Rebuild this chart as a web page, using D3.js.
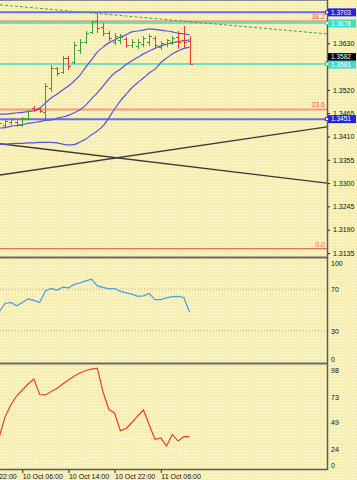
<!DOCTYPE html>
<html>
<head>
<meta charset="utf-8">
<script src="https://cdn.jsdelivr.net/npm/d3@7"></script>
<style>
  body { margin: 0; background: #f8f1b8; }
  svg { display: block; font-family: "Liberation Sans", Arial, sans-serif; }
</style>
</head>
<body>
<svg id="chart" width="357" height="480"></svg>
<script>
// hourly bars, 10 Oct 02:00 .. 11 Oct 11:00
var bars = ["10 Oct 02:00", "10 Oct 03:00", "10 Oct 04:00", "10 Oct 05:00", "10 Oct 06:00", "10 Oct 07:00",
  "10 Oct 08:00", "10 Oct 09:00", "10 Oct 10:00", "10 Oct 11:00", "10 Oct 12:00", "10 Oct 13:00",
  "10 Oct 14:00", "10 Oct 15:00", "10 Oct 16:00", "10 Oct 17:00", "10 Oct 18:00", "10 Oct 19:00",
  "10 Oct 20:00", "10 Oct 21:00", "10 Oct 22:00", "10 Oct 23:00", "11 Oct 00:00", "11 Oct 01:00",
  "11 Oct 02:00", "11 Oct 03:00", "11 Oct 04:00", "11 Oct 05:00", "11 Oct 06:00", "11 Oct 07:00",
  "11 Oct 08:00", "11 Oct 09:00", "11 Oct 10:00", "11 Oct 11:00"];

var open = [1.3430, 1.3437, 1.3444, 1.3444, 1.3437, 1.3454, 1.3477, 1.3475, 1.3468, 1.3525, 1.3572, 1.3562,
  1.3595, 1.3586, 1.3614, 1.3633, 1.3657, 1.3683, 1.3668, 1.3654, 1.3633, 1.3638, 1.3640, 1.3626,
  1.3624, 1.3628, 1.3633, 1.3643, 1.3621, 1.3628, 1.3633, 1.3645, 1.3638, 1.3635];
var high = [1.3447, 1.3449, 1.3454, 1.3447, 1.3456, 1.3473, 1.3482, 1.3480, 1.3536, 1.3579, 1.3574, 1.3600,
  1.3600, 1.3633, 1.3640, 1.3659, 1.3685, 1.3699, 1.3678, 1.3659, 1.3654, 1.3652, 1.3645, 1.3640,
  1.3640, 1.3647, 1.3652, 1.3647, 1.3635, 1.3640, 1.3647, 1.3659, 1.3671, 1.3647];
var low = [1.3425, 1.3430, 1.3437, 1.3433, 1.3433, 1.3449, 1.3468, 1.3466, 1.3449, 1.3515, 1.3553, 1.3558,
  1.3567, 1.3581, 1.3605, 1.3628, 1.3652, 1.3654, 1.3647, 1.3635, 1.3626, 1.3628, 1.3619, 1.3619,
  1.3617, 1.3621, 1.3624, 1.3617, 1.3614, 1.3621, 1.3626, 1.3617, 1.3619, 1.3581];
var close = [1.3442, 1.3447, 1.3451, 1.3437, 1.3454, 1.3470, 1.3473, 1.3470, 1.3529, 1.3572, 1.3560, 1.3595,
  1.3576, 1.3626, 1.3633, 1.3654, 1.3680, 1.3666, 1.3654, 1.3643, 1.3647, 1.3645, 1.3626, 1.3633,
  1.3633, 1.3643, 1.3647, 1.3626, 1.3631, 1.3638, 1.3643, 1.3633, 1.3633, 1.3582];

// bollinger bands
var bbUpper = [1.3463, 1.3463, 1.3464, 1.3466, 1.3467, 1.3469, 1.3471, 1.3477, 1.3489, 1.3501, 1.3510, 1.3520,
  1.3529, 1.3541, 1.3555, 1.3574, 1.3591, 1.3609, 1.3621, 1.3631, 1.3638, 1.3645, 1.3650, 1.3657,
  1.3659, 1.3661, 1.3664, 1.3663, 1.3661, 1.3659, 1.3657, 1.3654, 1.3652, 1.3650];
var bbMiddle = [1.3430, 1.3431, 1.3434, 1.3436, 1.3438, 1.3441, 1.3443, 1.3445, 1.3448, 1.3449, 1.3453, 1.3456,
  1.3460, 1.3466, 1.3473, 1.3484, 1.3499, 1.3513, 1.3529, 1.3546, 1.3560, 1.3569, 1.3580, 1.3589,
  1.3597, 1.3605, 1.3612, 1.3618, 1.3624, 1.3628, 1.3631, 1.3634, 1.3636, 1.3638];
var bbLower = [1.3392, 1.3392, 1.3393, 1.3394, 1.3394, 1.3395, 1.3395, 1.3396, 1.3396, 1.3396, 1.3395, 1.3392,
  1.3390, 1.3391, 1.3397, 1.3404, 1.3414, 1.3423, 1.3435, 1.3454, 1.3475, 1.3494, 1.3510, 1.3525,
  1.3537, 1.3548, 1.3560, 1.3569, 1.3584, 1.3595, 1.3605, 1.3612, 1.3618, 1.3621];

// oscillators
var rsi = [48.2, 56.3, 57.3, 54.0, 57.3, 60.7, 59.2, 57.1, 68.4, 70.8, 69.0, 71.9, 71.3, 74.6, 76.1, 78.0, 79.6,
  73.2, 71.7, 70.3, 70.6, 67.9, 66.4, 65.2, 63.1, 63.6, 66.0, 60.0, 60.0, 61.6, 62.8, 63.1, 62.1, 47.9];
var stoch = [35.5, 54.1, 65.3, 73.7, 79.3, 84.9, 89.6, 75.1, 74.7, 77.9, 80.7, 84.9, 88.7, 92.4, 95.2, 97.5, 98.9,
  99.8, 77.5, 61.1, 57.9, 41.4, 43.4, 49.0, 55.1, 60.7, 46.7, 33.3, 34.5, 27.1, 37.8, 31.7, 35.8, 35.8];
var stochSignal = [4.7, 6.5, 8.4, 9.3, 8.4, 9.3, 11.2, 13.1, 14.0, 12.1, 10.3, 9.3, 11.2, 13.1, 14.0, 15.9, 16.8,
  17.7, 23.3, 29.0, 31.7, 33.6, 33.6, 33.6, 31.7, 28.0, 25.2, 22.4, 20.5, 22.4, 24.3, 21.5, 15.0, 27.1];

// levels and objects
var blueLevels = [1.3703, 1.3451];
var cyanLevels = [1.3678, 1.3581];
var bidPrice = 1.3582;
var fibNames = ["0.0", "23.6", "38.2"];
var fibPrices = [1.3145, 1.3474, 1.3682];
var trendGreen = [["10 Oct 02:00", 1.3721], ["11 Oct 11:00", 1.3681]];
var trendDown = [["10 Oct 02:00", 1.3393], ["11 Oct 11:00", 1.3339]];
var trendUp = [["10 Oct 02:00", 1.3319], ["11 Oct 11:00", 1.3385]];

// axes (1.3685 and 1.3575 sit under the price boxes)
var priceTicks = [1.3630, 1.3520, 1.3465, 1.3410, 1.3355, 1.3300, 1.3245, 1.3190, 1.3135];
var rsiTicks = [100, 70, 30, 0];
var rsiLevels = [70, 30];
var stochTicks = [98, 73, 49, 24, 0];
var timeTicks = ["09 Oct 22:00", "10 Oct 06:00", "10 Oct 14:00", "10 Oct 22:00", "11 Oct 06:00"];

var params = {
  "width": 357,
  "height": 480,
  "axisX": 327,
  "main": { "top": 1, "bottom": 257 },
  "rsi": { "top": 258, "bottom": 363 },
  "sto": { "top": 364, "bottom": 469 }
};

var parseTime = d3.timeParse("%d %b %H:%M");
var barTimes = bars.map(parseTime);

var scale = {
  "x": d3.scaleTime()
    .domain([barTimes[1], barTimes[barTimes.length - 1]])
    .range([5, 189.6]),
  "y": d3.scaleLinear().domain([1.3630, 1.3135]).range([43.3, 253]),
  "rsi": d3.scaleLinear().domain([0, 100]).range([362, 258]),
  "sto": d3.scaleLinear().domain([5.6, 103.6]).range([469, 364])
};

var svg = d3.select("#chart");
var defs = svg.append("defs");

// dithered yellow background
var pat = defs.append("pattern")
  .attr("id", "dots")
  .attr("width", 3)
  .attr("height", 3)
  .attr("patternUnits", "userSpaceOnUse");
pat.append("rect").attr("width", 3).attr("height", 3).attr("fill", "#f7efb2");
pat.append("rect").attr("x", 1).attr("y", 1).attr("width", 1).attr("height", 1)
  .attr("fill", "#ffffff").attr("opacity", 0.85);

svg.append("rect")
  .attr("width", params.width)
  .attr("height", params.height)
  .attr("fill", "url(#dots)");

function addClip(id, top, bottom) {
  defs.append("clipPath").attr("id", id)
    .append("rect")
    .attr("x", 0).attr("y", top)
    .attr("width", params.axisX).attr("height", bottom - top);
}
addClip("clipMain", params.main.top, params.main.bottom);
addClip("clipRsi", params.rsi.top, params.rsi.bottom);
addClip("clipSto", params.sto.top, params.sto.bottom);

function hLine(g, yy, color, width, dash) {
  g.append("line")
    .attr("x1", 0).attr("x2", params.axisX)
    .attr("y1", yy).attr("y2", yy)
    .attr("stroke", color)
    .attr("stroke-width", width)
    .attr("stroke-dasharray", dash || null);
}

// trend line through two anchors, extended over the plot width
function trendLine(g, pts, color, width, dash) {
  let x1 = scale.x(parseTime(pts[0][0])), y1 = scale.y(pts[0][1]);
  let x2 = scale.x(parseTime(pts[1][0])), y2 = scale.y(pts[1][1]);
  let k = (y2 - y1) / (x2 - x1);
  g.append("line")
    .attr("x1", 0).attr("y1", y1 + k * (0 - x1))
    .attr("x2", params.axisX).attr("y2", y1 + k * (params.axisX - x1))
    .attr("stroke", color)
    .attr("stroke-width", width)
    .attr("stroke-dasharray", dash || null);
}

/* ---------- main price window ---------- */
var main = svg.append("g").attr("clip-path", "url(#clipMain)");

fibPrices.forEach(function(p, i) {
  if (i == 0) hLine(main, scale.y(p), "#e04a3a", 1);
  else hLine(main, scale.y(p), "#f29a7c", 2);
});
blueLevels.forEach(function(p) { hLine(main, scale.y(p), "#6b6be6", 2); });
cyanLevels.forEach(function(p) { hLine(main, scale.y(p), "#3fdccc", 1.5); });

trendLine(main, trendGreen, "#4f9a4a", 1, "3,2");
trendLine(main, trendDown, "#3a3a3a", 1.4);
trendLine(main, trendUp, "#3a3a3a", 1.4);

var bandLine = d3.line()
  .x(function(d, i) { return scale.x(barTimes[i]); })
  .y(function(d) { return scale.y(d); })
  .curve(d3.curveMonotoneX);

[bbUpper, bbMiddle, bbLower].forEach(function(series) {
  main.append("path")
    .attr("d", bandLine(series))
    .attr("fill", "none")
    .attr("stroke", "#5555e2")
    .attr("stroke-width", 1.2);
});

// OHLC bars
var ohlc = main.selectAll("g.bar")
  .data(bars)
  .enter()
  .append("g")
  .attr("class", "bar")
  .attr("stroke", function(d, i) { return close[i] >= open[i] ? "#3f9e3f" : "#e83a2e"; })
  .attr("stroke-width", 1);

ohlc.append("line")
  .attr("x1", function(d, i) { return Math.round(scale.x(barTimes[i])) + 0.5; })
  .attr("x2", function(d, i) { return Math.round(scale.x(barTimes[i])) + 0.5; })
  .attr("y1", function(d, i) { return scale.y(high[i]); })
  .attr("y2", function(d, i) { return scale.y(low[i]); });
ohlc.append("line")
  .attr("x1", function(d, i) { return Math.round(scale.x(barTimes[i])) - 2; })
  .attr("x2", function(d, i) { return Math.round(scale.x(barTimes[i])) + 0.5; })
  .attr("y1", function(d, i) { return Math.round(scale.y(open[i])) + 0.5; })
  .attr("y2", function(d, i) { return Math.round(scale.y(open[i])) + 0.5; });
ohlc.append("line")
  .attr("x1", function(d, i) { return Math.round(scale.x(barTimes[i])) + 0.5; })
  .attr("x2", function(d, i) { return Math.round(scale.x(barTimes[i])) + 3; })
  .attr("y1", function(d, i) { return Math.round(scale.y(close[i])) + 0.5; })
  .attr("y2", function(d, i) { return Math.round(scale.y(close[i])) + 0.5; });

// fibo level captions
fibPrices.forEach(function(p, i) {
  svg.append("text")
    .attr("x", 325)
    .attr("y", scale.y(p) - 2)
    .attr("text-anchor", "end")
    .attr("font-size", 7)
    .attr("fill", "#e8604c")
    .text(fibNames[i]);
});

/* ---------- RSI window ---------- */
var rsiG = svg.append("g").attr("clip-path", "url(#clipRsi)");
rsiLevels.forEach(function(v) { hLine(rsiG, scale.rsi(v), "#b8ad85", 1, "1,2"); });

var rsiLine = d3.line()
  .x(function(d, i) { return scale.x(barTimes[i]); })
  .y(function(d) { return scale.rsi(d); });

rsiG.append("path")
  .attr("d", rsiLine(rsi))
  .attr("fill", "none")
  .attr("stroke", "#4b9ce6")
  .attr("stroke-width", 1.2);

/* ---------- stochastic window ---------- */
var stoG = svg.append("g").attr("clip-path", "url(#clipSto)");
var stoLine = d3.line()
  .x(function(d, i) { return scale.x(barTimes[i]); })
  .y(function(d) { return scale.sto(d); });

stoG.append("path")
  .attr("d", stoLine(stochSignal))
  .attr("fill", "none")
  .attr("stroke", "#fdf8dc")
  .attr("stroke-width", 1);
stoG.append("path")
  .attr("d", stoLine(stoch))
  .attr("fill", "none")
  .attr("stroke", "#e8402c")
  .attr("stroke-width", 1.2);

/* ---------- frames ---------- */
var frame = svg.append("g").attr("fill", "none");
frame.append("line").attr("x1", 0).attr("x2", params.axisX).attr("y1", 0.5).attr("y2", 0.5)
  .attr("stroke", "#8a8a8a").attr("stroke-width", 1);
[params.main.bottom, params.rsi.bottom].forEach(function(yy) {
  frame.append("line").attr("x1", 0).attr("x2", params.axisX).attr("y1", yy + 0.5).attr("y2", yy + 0.5)
    .attr("stroke", "#6a6a6a").attr("stroke-width", 2);
});
frame.append("line").attr("x1", 0).attr("x2", params.axisX)
  .attr("y1", params.sto.bottom + 0.5).attr("y2", params.sto.bottom + 0.5)
  .attr("stroke", "#5a5a5a").attr("stroke-width", 1.5);
frame.append("line").attr("x1", params.axisX + 0.5).attr("x2", params.axisX + 0.5)
  .attr("y1", 0).attr("y2", params.sto.bottom + 1)
  .attr("stroke", "#5a5a5a").attr("stroke-width", 1.5);

/* ---------- axes ---------- */
function styleAxis(g) {
  g.select(".domain").remove();
  g.selectAll(".tick line").attr("stroke", "#222");
  g.selectAll(".tick text")
    .attr("fill", "#111")
    .attr("font-size", 7)
    .attr("font-family", "\"Liberation Sans\", Arial, sans-serif");
}

var gPrice = svg.append("g")
  .attr("transform", "translate(" + (params.axisX + 1) + ",0)")
  .call(d3.axisRight(scale.y).tickValues(priceTicks).tickSize(2).tickPadding(3).tickFormat(d3.format(".4f")));
styleAxis(gPrice);

function clampAxis(g, sc, top, bottom) {
  g.selectAll(".tick text").attr("y", function(d) {
    let yy = sc(d);
    return Math.max(top + 5, Math.min(bottom - 4, yy)) - yy;
  });
}

var gRsi = svg.append("g")
  .attr("transform", "translate(" + (params.axisX + 1) + ",0)")
  .call(d3.axisRight(scale.rsi).tickValues(rsiTicks).tickSize(0).tickPadding(3));
styleAxis(gRsi);
clampAxis(gRsi, scale.rsi, params.rsi.top, params.rsi.bottom);

var gSto = svg.append("g")
  .attr("transform", "translate(" + (params.axisX + 1) + ",0)")
  .call(d3.axisRight(scale.sto).tickValues(stochTicks).tickSize(0).tickPadding(3));
styleAxis(gSto);
clampAxis(gSto, scale.sto, params.sto.top, params.sto.bottom);

var gTime = svg.append("g")
  .attr("transform", "translate(0," + (params.sto.bottom + 1) + ")")
  .call(d3.axisBottom(scale.x)
    .tickValues(timeTicks.map(parseTime))
    .tickSize(3)
    .tickPadding(1)
    .tickFormat(function(d, i) { return timeTicks[i]; }));
styleAxis(gTime);
gTime.selectAll(".tick text").attr("text-anchor", "start").attr("x", 0);

/* ---------- price labels on the scale ---------- */
function priceBox(p, yy, fill, txt) {
  let g = svg.append("g");
  g.append("rect")
    .attr("x", params.axisX + 1).attr("y", yy - 4)
    .attr("width", 28).attr("height", 8)
    .attr("fill", fill);
  g.append("rect")
    .attr("x", params.axisX - 1.5).attr("y", scale.y(p) - 1.5)
    .attr("width", 3).attr("height", 3)
    .attr("fill", "#f8f0b4").attr("stroke", fill).attr("stroke-width", 0.8);
  g.append("text")
    .attr("x", params.axisX + 4).attr("y", yy)
    .attr("dy", "0.35em")
    .attr("font-size", 6.5)
    .attr("fill", txt)
    .text(d3.format(".4f")(p));
}

priceBox(blueLevels[0], scale.y(blueLevels[0]), "#2424dc", "#ffffff");
priceBox(cyanLevels[0], scale.y(cyanLevels[0]) + 0.5, "#3fdccc", "#ffffff");
priceBox(bidPrice, scale.y(bidPrice) - 6.5, "#000000", "#ffffff");
priceBox(cyanLevels[1], scale.y(cyanLevels[1]) + 0.5, "#3fdccc", "#ffffff");
priceBox(blueLevels[1], scale.y(blueLevels[1]), "#2424dc", "#ffffff");
</script>
</body>
</html>
